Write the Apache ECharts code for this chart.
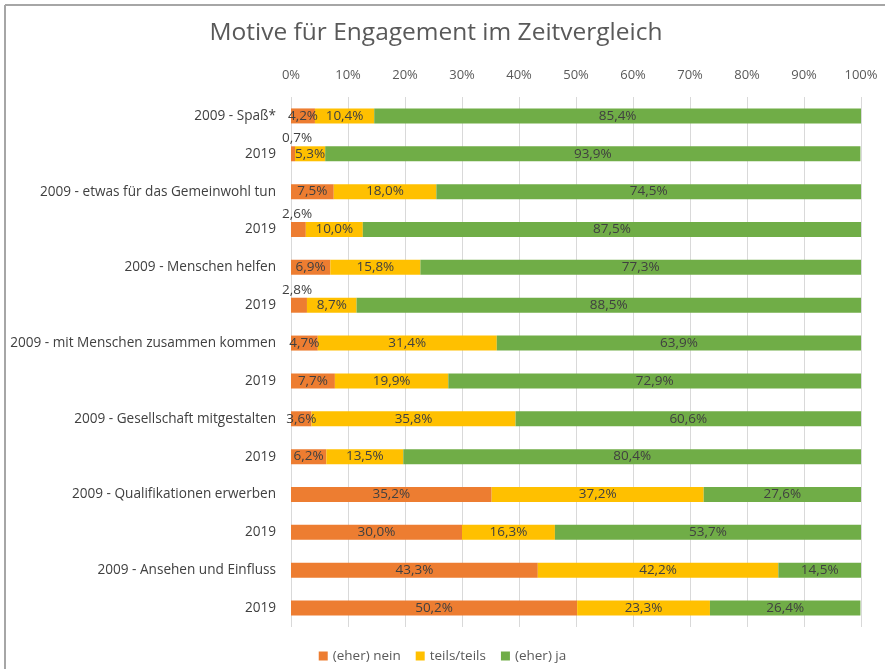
<!DOCTYPE html>
<html>
<head>
<meta charset="utf-8">
<script src="https://cdn.jsdelivr.net/npm/echarts@6/dist/echarts.min.js"></script>
<style>
html,body{margin:0;padding:0;background:#fff;}
#c{width:885px;height:669px;}
</style>
</head>
<body>
<div id="c"></div>
<script>
const categories = ['2009 - Spaß*','2019','2009 - etwas für das Gemeinwohl tun','2019','2009 - Menschen helfen','2019','2009 - mit Menschen zusammen kommen','2019','2009 - Gesellschaft mitgestalten','2019','2009 - Qualifikationen erwerben','2019','2009 - Ansehen und Einfluss','2019'];
const seriesNames = ['(eher) nein','teils/teils','(eher) ja'];
const nein = [4.2,0.7,7.5,2.6,6.9,2.8,4.7,7.7,3.6,6.2,35.2,30.0,43.3,50.2];
const teils = [10.4,5.3,18.0,10.0,15.8,8.7,31.4,19.9,35.8,13.5,37.2,16.3,42.2,23.3];
const ja = [85.4,93.9,74.5,87.5,77.3,88.5,63.9,72.9,60.6,80.4,27.6,53.7,14.5,26.4];
const ticks = [0,10,20,30,40,50,60,70,80,90,100];

const FONT = "'Open Sans', sans-serif";
const fmt = v => v.toFixed(1).replace('.', ',') + '%';
const outsideIdx = [1,3,5];

function mk(name, vals, color, special) {
  return {
    name: name, type: 'bar', stack: 'a', barWidth: 15,
    itemStyle: {color: color},
    label: {show: true, position: 'inside', color: '#404040', fontFamily: FONT, fontSize: 13.5,
      formatter: p => fmt(p.value)},
    data: vals.map((v, i) => {
      if (special && outsideIdx.includes(i)) {
        return {value: v, label: {position: [-9, -15], align: 'left'}};
      }
      return v;
    })
  };
}

const chart = echarts.init(document.getElementById('c'), null, {renderer: 'canvas'});
chart.setOption({
  animation: false,
  backgroundColor: '#fff',
  title: {text: 'Motive für Engagement im Zeitvergleich', left: 431, top: 16, textAlign: 'center',
    textStyle: {fontFamily: FONT, fontSize: 24.5, fontWeight: 'normal', color: '#595959'}},
  legend: {bottom: 1, left: 'center', itemWidth: 9, itemHeight: 9, itemGap: 15, icon: 'rect',
    textStyle: {fontFamily: FONT, fontSize: 13.5, color: '#595959'}, data: seriesNames},
  grid: {left: 291, right: 24, top: 97, bottom: 42},
  xAxis: {type: 'value', position: 'top', min: 0, max: 100, interval: 10,
    axisLabel: {formatter: v => ticks.includes(v) ? v + '%' : '', fontFamily: FONT, fontSize: 13, color: '#595959', margin: 15},
    axisLine: {show: false}, axisTick: {show: false},
    splitLine: {show: true, lineStyle: {color: '#d9d9d9', width: 1}}},
  yAxis: {type: 'category', inverse: true, data: categories,
    axisLine: {show: false}, axisTick: {show: false},
    axisLabel: {fontFamily: FONT, fontSize: 13.6, color: '#404040', margin: 15}},
  graphic: [
    {type: 'line', shape: {x1: 5, y1: 5, x2: 885, y2: 5}, style: {stroke: '#a6a6a6', lineWidth: 2}},
    {type: 'line', shape: {x1: 5, y1: 5, x2: 5, y2: 669}, style: {stroke: '#a6a6a6', lineWidth: 2}}
  ],
  series: [
    mk(seriesNames[0], nein, '#ED7D31', true),
    mk(seriesNames[1], teils, '#FFC000', false),
    mk(seriesNames[2], ja, '#70AD47', false)
  ]
});
</script>
</body>
</html>
